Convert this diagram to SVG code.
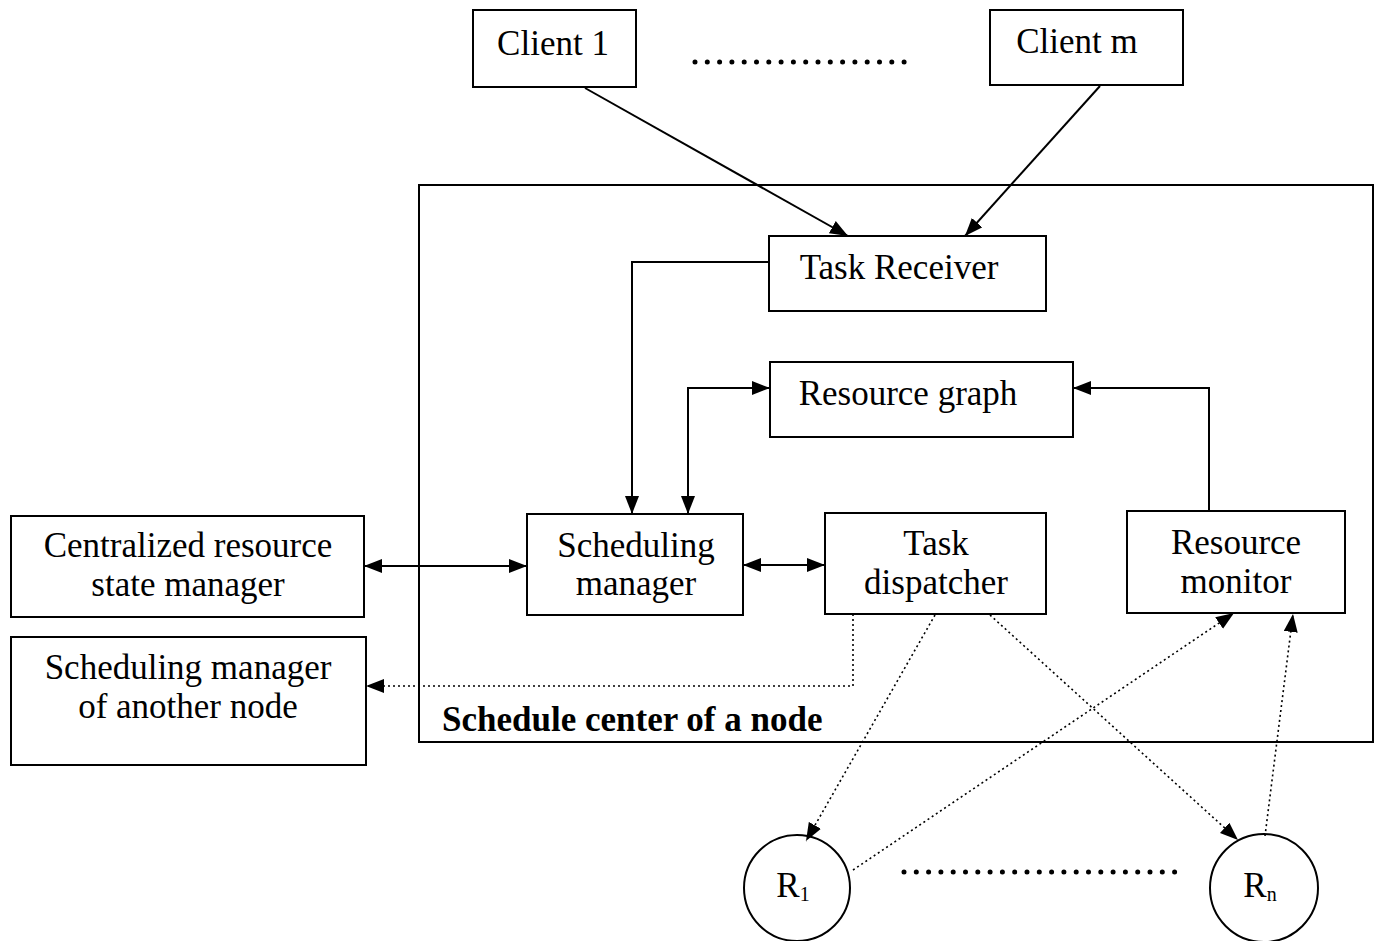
<svg xmlns="http://www.w3.org/2000/svg" width="1380" height="941" viewBox="0 0 1380 941">
<defs>
<marker id="ah" viewBox="0 0 18 14" refX="18" refY="7" markerWidth="18" markerHeight="14" markerUnits="userSpaceOnUse" orient="auto-start-reverse">
<path d="M0,0 L18,7 L0,14 Z" fill="#000"/>
</marker>
<style>
.box{fill:#fff;stroke:#000;stroke-width:2}
.t{font-family:"Liberation Serif","Times New Roman",serif;font-size:35px;fill:#000;text-anchor:middle}
.b{font-weight:bold;text-anchor:start}
.c{fill:none;stroke:#000;stroke-width:2}
.d{fill:none;stroke:#000;stroke-width:1.6;stroke-dasharray:2 3}
.dots{fill:none;stroke:#000;stroke-width:5;stroke-dasharray:0 12.3;stroke-linecap:round}
</style>
</defs>
<rect width="1380" height="941" fill="#fff"/>
<g id="container">
<rect x="419" y="185" width="954" height="557" fill="none" stroke="#000" stroke-width="2"/>
<text class="t b" x="442" y="731">Schedule center of a node</text>
</g>
<g id="client1"><rect class="box" x="473" y="10" width="163" height="77"/><text class="t" x="553" y="55">Client 1</text></g>
<g id="clientm"><rect class="box" x="990" y="10" width="193" height="75"/><text class="t" x="1077" y="53">Client m</text></g>
<g id="task-receiver"><rect class="box" x="769" y="236" width="277" height="75"/><text class="t" x="899" y="279">Task Receiver</text></g>
<g id="resource-graph"><rect class="box" x="770" y="362" width="303" height="75"/><text class="t" x="908" y="405">Resource graph</text></g>
<g id="scheduling-manager"><rect class="box" x="527" y="514" width="216" height="101"/><text class="t" x="636" y="557">Scheduling</text><text class="t" x="636" y="595">manager</text></g>
<g id="task-dispatcher"><rect class="box" x="825" y="513" width="221" height="101"/><text class="t" x="936" y="555">Task</text><text class="t" x="936" y="594">dispatcher</text></g>
<g id="resource-monitor"><rect class="box" x="1127" y="511" width="218" height="102"/><text class="t" x="1236" y="554">Resource</text><text class="t" x="1236" y="593">monitor</text></g>
<g id="centralized"><rect class="box" x="11" y="516" width="353" height="101"/><text class="t" x="188" y="557">Centralized resource</text><text class="t" x="188" y="596">state manager</text></g>
<g id="other-node"><rect class="box" x="11" y="637" width="355" height="128"/><text class="t" x="188" y="679">Scheduling manager</text><text class="t" x="188" y="718">of another node</text></g>
<g id="r1"><circle cx="797" cy="888" r="53" fill="#fff" stroke="#000" stroke-width="2"/><text class="t" x="793" y="897" font-size="32">R<tspan font-size="20" dy="4">1</tspan></text></g>
<g id="rn"><circle cx="1264" cy="888" r="54" fill="#fff" stroke="#000" stroke-width="2"/><text class="t" x="1260" y="897" font-size="32">R<tspan font-size="20" dy="4">n</tspan></text></g>
<g id="ellipses">
<line class="dots" x1="695" y1="62" x2="916" y2="62"/>
<line class="dots" x1="904" y1="872" x2="1185" y2="872"/>
</g>
<g id="connectors">
<line class="c" x1="585" y1="88" x2="848" y2="236" marker-end="url(#ah)"/>
<line class="c" x1="1100" y1="86" x2="965" y2="236" marker-end="url(#ah)"/>
<polyline class="c" points="769,262 632,262 632,514" marker-end="url(#ah)"/>
<polyline class="c" points="770,388 688,388 688,514" marker-start="url(#ah)" marker-end="url(#ah)"/>
<polyline class="c" points="1209,511 1209,388 1073,388" marker-end="url(#ah)"/>
<line class="c" x1="364" y1="566" x2="527" y2="566" marker-start="url(#ah)" marker-end="url(#ah)"/>
<line class="c" x1="743" y1="565" x2="825" y2="565" marker-start="url(#ah)" marker-end="url(#ah)"/>
<polyline class="d" points="853,614 853,686 366,686" marker-end="url(#ah)"/>
<line class="d" x1="935" y1="615" x2="806" y2="841" marker-end="url(#ah)"/>
<line class="d" x1="990" y1="615" x2="1238" y2="840" marker-end="url(#ah)"/>
<line class="d" x1="853" y1="870" x2="1234" y2="613" marker-end="url(#ah)"/>
<line class="d" x1="1265" y1="836" x2="1293" y2="614" marker-end="url(#ah)"/>
</g>
</svg>
